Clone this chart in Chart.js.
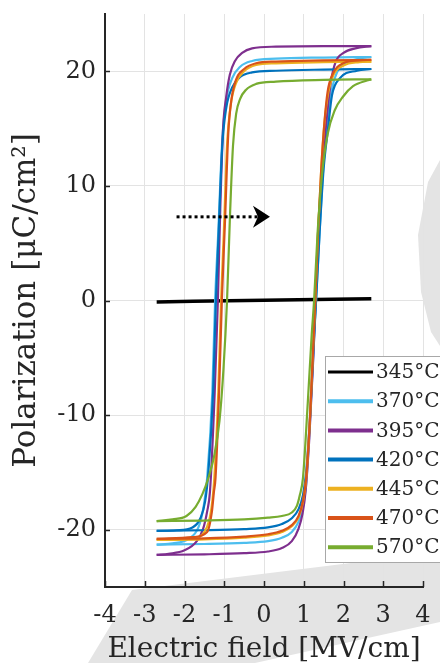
<!DOCTYPE html>
<html>
<head>
<meta charset="utf-8">
<script src="https://cdn.jsdelivr.net/npm/chart.js@4.4.1/dist/chart.umd.min.js"></script>
<style>
  html, body { margin: 0; padding: 0; background: #fff; }
  canvas { display: block; }
</style>
</head>
<body>
<canvas id="peChart" width="440" height="663"></canvas>
<script>
// anneal temperatures and line colours (MATLAB default order)
const temps = ['345°C', '370°C', '395°C', '420°C', '445°C', '470°C', '570°C'];
const lineColors = ['#000000', '#4DBEEE', '#7E2F8E', '#0072BD', '#EDB120', '#D95319', '#77AC30'];

const fieldTicks = [-4, -3, -2, -1, 0, 1, 2, 3, 4];
const polTicks = [-20, -10, 0, 10, 20];

// each loop: rising branch (-E -> +E) followed by falling branch (+E -> -E)
const e345 = [-2.7, 0, 2.7];
const p345 = [-0.12, 0.02, 0.15];

const e370 = [-2.7, -1.5, -0.5, 0.1, 0.45, 0.7, 0.87, 0.98, 1.06, 1.15, 1.25, 1.31, 1.4, 1.5, 1.6, 1.72, 1.88, 2.1, 2.4, 2.7,
              1.5, 0.3, -0.3, -0.6, -0.8, -0.95, -1.05, -1.15, -1.23, -1.3, -1.43, -1.52, -1.65, -1.9, -2.3, -2.7];
const p370 = [-21.3, -21.25, -21.15, -21.0, -20.7, -20.2, -19.3, -18.0, -16.0, -11, -4, 0, 6, 12, 15.8, 18.6, 20.2, 20.8, 21.1, 21.25,
              21.2, 21.1, 20.9, 20.4, 19.4, 17.5, 14, 6, 0, -8, -15.5, -18, -19.8, -20.8, -21.2, -21.3];

const e395 = [-2.7, -1.5, -0.5, 0.1, 0.45, 0.7, 0.87, 0.97, 1.05, 1.14, 1.24, 1.3, 1.38, 1.48, 1.58, 1.68, 1.8, 2.0, 2.3, 2.7,
              1.5, 0.3, -0.3, -0.55, -0.73, -0.86, -0.95, -1.03, -1.1, -1.16, -1.24, -1.36, -1.43, -1.53, -1.69, -2.0, -2.4, -2.7];
const p395 = [-22.2, -22.15, -22.05, -21.9, -21.6, -21.0, -19.9, -18.6, -16.5, -12, -5, 0, 6, 12, 16, 19, 20.8, 21.6, 22.0, 22.2,
              22.2, 22.15, 22.0, 21.6, 20.9, 19.7, 17.8, 15.0, 8, 0, -8, -16.7, -18.4, -19.9, -21.0, -21.8, -22.1, -22.2];

const e420 = [-2.7, -1.5, -0.5, 0.1, 0.45, 0.7, 0.87, 0.98, 1.06, 1.16, 1.26, 1.31, 1.4, 1.5, 1.61, 1.71, 1.91, 2.34, 2.7,
              1.5, 0.3, -0.3, -0.6, -0.8, -0.95, -1.05, -1.14, -1.21, -1.28, -1.4, -1.48, -1.6, -1.8, -2.2, -2.7];
const p420 = [-20.1, -20.05, -19.95, -19.8, -19.5, -19.0, -18.2, -17.0, -15.0, -10, -3, 0, 6, 11.5, 15, 17.9, 19.4, 20.05, 20.2,
              20.15, 20.05, 19.9, 19.5, 18.6, 16.8, 13.5, 6, 0, -8, -15, -17.5, -19.0, -19.8, -20.05, -20.1];

const e445 = [-2.7, -1.5, -0.5, 0.1, 0.45, 0.7, 0.87, 0.98, 1.06, 1.16, 1.25, 1.29, 1.36, 1.44, 1.52, 1.62, 1.75, 2.0, 2.4, 2.7,
              1.5, 0.3, -0.2, -0.5, -0.7, -0.84, -0.93, -1.01, -1.08, -1.15, -1.25, -1.3, -1.38, -1.52, -1.8, -2.7];
const p445 = [-20.9, -20.85, -20.7, -20.5, -20.2, -19.7, -18.9, -17.6, -15.6, -10, -3, 0, 6, 11.5, 15.5, 18.2, 19.7, 20.5, 20.8, 20.85,
              20.8, 20.7, 20.55, 20.0, 19.0, 17.0, 13.5, 6, 0, -8, -15.5, -17.5, -19.2, -20.3, -20.75, -20.9];

const e470 = [-2.7, -1.5, -0.5, 0.1, 0.45, 0.7, 0.87, 0.98, 1.06, 1.16, 1.25, 1.29, 1.36, 1.44, 1.52, 1.6, 1.72, 1.99, 2.4, 2.7,
              1.5, 0.3, -0.2, -0.5, -0.7, -0.82, -0.9, -0.98, -1.06, -1.13, -1.22, -1.26, -1.31, -1.43, -1.8, -2.7];
const p470 = [-20.8, -20.75, -20.6, -20.4, -20.1, -19.6, -18.8, -17.5, -15.5, -10, -3, 0, 6, 11.5, 15.5, 18.2, 19.7, 20.7, 20.95, 21.0,
              20.95, 20.85, 20.7, 20.2, 19.3, 17.5, 14.5, 7, 0, -8, -15.5, -16.7, -18.4, -20.2, -20.65, -20.8];

const e570 = [-2.7, -1.5, -0.5, 0.1, 0.45, 0.7, 0.83, 0.9, 0.98, 1.1, 1.2, 1.26, 1.35, 1.46, 1.6, 1.78, 1.99, 2.24, 2.59, 2.7,
              1.5, 0.3, -0.2, -0.45, -0.6, -0.7, -0.78, -0.86, -0.93, -1.02, -1.12, -1.25, -1.4, -1.55, -1.72, -1.95, -2.3, -2.7];
const p570 = [-19.25, -19.2, -19.1, -18.95, -18.8, -18.5, -17.9, -17.0, -15.5, -9, -3, 0, 6, 11, 14.5, 16.6, 17.8, 18.7, 19.2, 19.3,
              19.25, 19.1, 18.9, 18.4, 17.6, 16.3, 13.5, 7, 0, -6, -10.5, -13.5, -15.5, -16.9, -18.0, -18.8, -19.1, -19.25];

const loopsE = [e345, e370, e395, e420, e445, e470, e570];
const loopsP = [p345, p370, p395, p420, p445, p470, p570];

// dotted sweep arrow, data coords
const arrowFrom = [-2.2, 7.3];
const arrowTo = [0.15, 7.3];

const ink = '#262626';
const serif = 'DejaVu Serif';

// split every loop at its turning point so each branch is monotone in E
const datasets = [];
temps.forEach((t, i) => {
  const e = loopsE[i], p = loopsP[i];
  const turn = e.indexOf(Math.max(...e));
  const pts = e.map((x, k) => ({ x: x, y: p[k] }));
  [pts.slice(0, turn + 1), pts.slice(turn)].forEach(branch => {
    if (branch.length < 2) return;
    datasets.push({
      label: t,
      data: branch,
      borderColor: lineColors[i],
      borderWidth: i === 0 ? 3.5 : 2.2,
      showLine: true,
      pointRadius: 0,
      fill: false,
      cubicInterpolationMode: 'monotone',
      order: -i
    });
  });
});

// faint grey shapes behind everything
const backdrop = {
  id: 'backdrop',
  beforeDraw(chart) {
    const ctx = chart.ctx;
    ctx.save();
    ctx.fillStyle = '#e4e4e4';
    ctx.beginPath();
    ctx.moveTo(88, 663);
    ctx.lineTo(132, 590);
    ctx.lineTo(440, 552);
    ctx.lineTo(440, 622);
    ctx.lineTo(255, 663);
    ctx.closePath();
    ctx.fill();
    ctx.beginPath();
    ctx.moveTo(440, 160);
    ctx.lineTo(428, 182);
    ctx.lineTo(418, 235);
    ctx.lineTo(421, 292);
    ctx.lineTo(431, 332);
    ctx.lineTo(440, 346);
    ctx.closePath();
    ctx.fill();
    ctx.restore();
  }
};

// inward tick marks, arrow and boxed legend
const extras = {
  id: 'extras',
  afterDraw(chart) {
    const ctx = chart.ctx;
    const xs = chart.scales.x, ys = chart.scales.y;
    const area = chart.chartArea;
    ctx.save();

    ctx.strokeStyle = ink;
    ctx.lineWidth = 1.5;
    fieldTicks.forEach(v => {
      const px = Math.round(xs.getPixelForValue(v)) + 0.5;
      ctx.beginPath();
      ctx.moveTo(px, area.bottom);
      ctx.lineTo(px, area.bottom - 6);
      ctx.stroke();
    });
    polTicks.forEach(v => {
      const py = Math.round(ys.getPixelForValue(v)) + 0.5;
      ctx.beginPath();
      ctx.moveTo(area.left, py);
      ctx.lineTo(area.left + 5, py);
      ctx.stroke();
    });

    // arrow
    const ax0 = xs.getPixelForValue(arrowFrom[0]);
    const ax1 = xs.getPixelForValue(arrowTo[0]);
    const ay = ys.getPixelForValue(arrowTo[1]);
    ctx.strokeStyle = '#000';
    ctx.fillStyle = '#000';
    ctx.lineWidth = 3;
    ctx.setLineDash([3, 3]);
    ctx.beginPath();
    ctx.moveTo(ax0, ay);
    ctx.lineTo(ax1 - 12, ay);
    ctx.stroke();
    ctx.setLineDash([]);
    ctx.beginPath();
    ctx.moveTo(ax1, ay);
    ctx.lineTo(ax1 - 17, ay - 11);
    ctx.lineTo(ax1 - 12, ay);
    ctx.lineTo(ax1 - 17, ay + 11);
    ctx.closePath();
    ctx.fill();

    // legend
    const lx = area.right - 98, ly = area.bottom - 231, rowH = 29.2;
    ctx.fillStyle = '#fff';
    ctx.fillRect(lx, ly, 140, 206);
    ctx.strokeStyle = '#a8a8a8';
    ctx.lineWidth = 1;
    ctx.strokeRect(lx + 0.5, ly + 0.5, 140, 206);
    ctx.font = '20px "' + serif + '"';
    ctx.textBaseline = 'middle';
    temps.forEach((t, i) => {
      const y = ly + 16 + i * rowH;
      ctx.strokeStyle = lineColors[i];
      ctx.lineWidth = i === 0 ? 3 : 4;
      ctx.beginPath();
      ctx.moveTo(lx + 3, y);
      ctx.lineTo(lx + 48, y);
      ctx.stroke();
      ctx.fillStyle = ink;
      ctx.fillText(t, lx + 51, y + 1);
    });
    ctx.restore();
  }
};

new Chart(document.getElementById('peChart').getContext('2d'), {
  type: 'scatter',
  data: { datasets: datasets },
  options: {
    responsive: false,
    animation: false,
    layout: { padding: { top: 14, right: 17, left: 0, bottom: 0 } },
    plugins: { legend: { display: false }, tooltip: { enabled: false } },
    scales: {
      x: {
        type: 'linear',
        min: -4,
        max: 4,
        afterBuildTicks: s => { s.ticks = fieldTicks.map(v => ({ value: v })); },
        afterFit: s => { s.height = 76; s.paddingLeft = 0; s.paddingRight = 0; },
        grid: { color: '#e3e3e3', lineWidth: 1, drawTicks: false },
        border: { display: true, color: ink, width: 2 },
        ticks: {
          padding: 14,
          color: ink,
          autoSkip: false,
          maxRotation: 0,
          font: { family: serif, size: 24 },
          callback: v => String(v)
        },
        title: {
          display: true,
          text: 'Electric field [MV/cm]',
          color: ink,
          font: { family: serif, size: 28 },
          padding: { top: 0, bottom: -4 }
        }
      },
      y: {
        type: 'linear',
        min: -25,
        max: 25,
        afterBuildTicks: s => { s.ticks = polTicks.map(v => ({ value: v })); },
        afterFit: s => { s.width = 105; s.paddingTop = 0; s.paddingBottom = 0; },
        grid: { color: '#e3e3e3', lineWidth: 1, drawTicks: false },
        border: { display: true, color: ink, width: 2 },
        ticks: {
          padding: 9,
          color: ink,
          font: { family: serif, size: 24 },
          callback: v => String(v)
        },
        title: {
          display: true,
          text: 'Polarization [μC/cm²]',
          color: ink,
          font: { family: serif, size: 31 },
          padding: { top: 8, bottom: 0 }
        }
      }
    }
  },
  plugins: [backdrop, extras]
});
</script>
</body>
</html>
